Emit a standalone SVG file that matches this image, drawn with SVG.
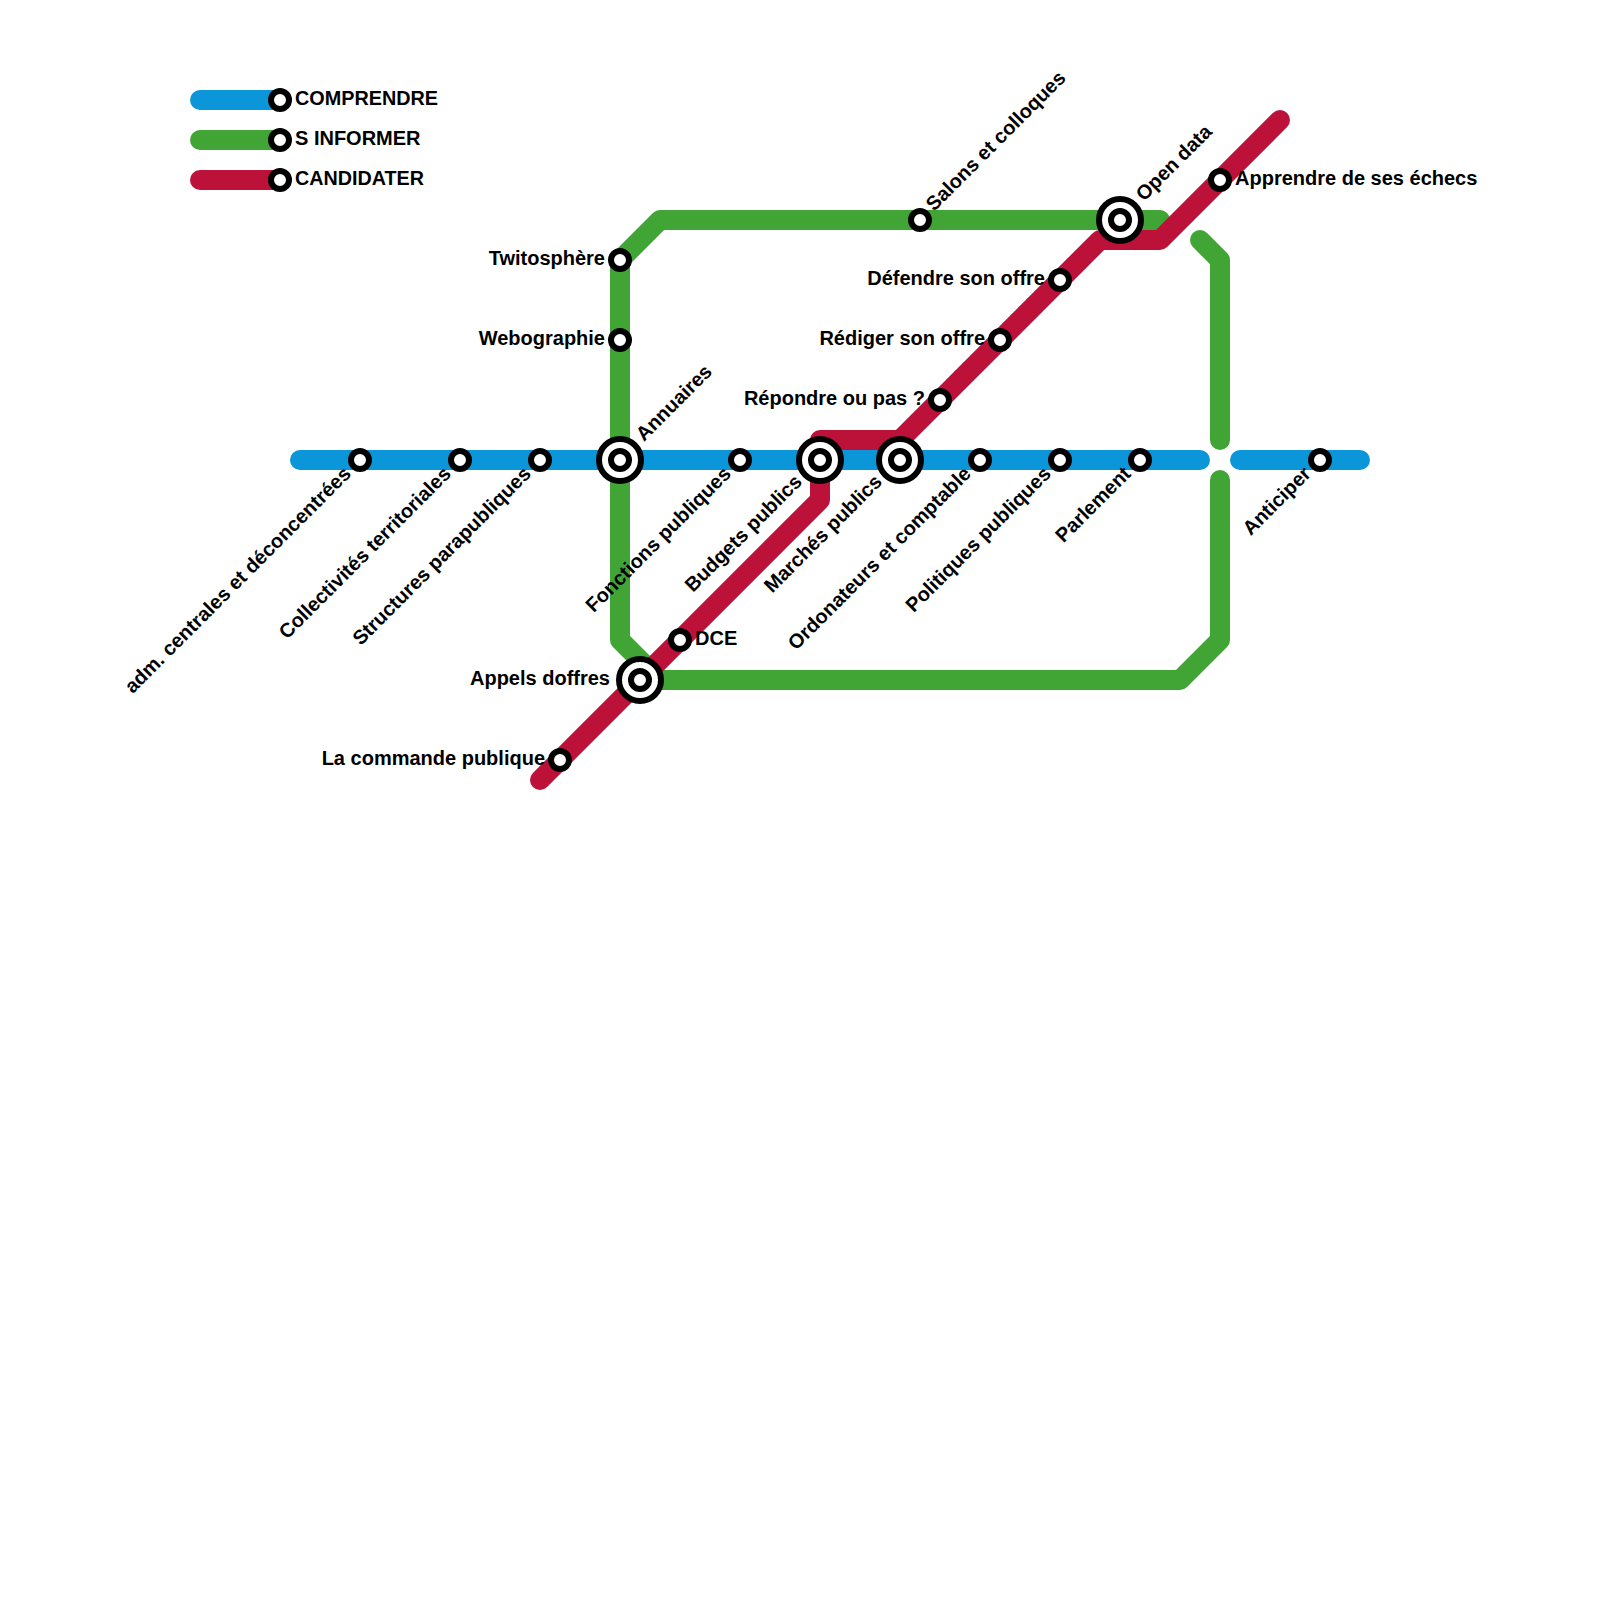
<svg xmlns="http://www.w3.org/2000/svg" width="1600" height="1600" viewBox="0 0 1600 1600">
<style>
.l{fill:none;stroke-width:20;stroke-linecap:round;stroke-linejoin:round}
.b{stroke:#0a96d8}.g{stroke:#41a535}.r{stroke:#bc1139}
.s{fill:#fff;stroke:#000;stroke-width:6}
text{font-family:"Liberation Sans",Arial,sans-serif;font-weight:700;font-size:20px;fill:#000}
.e{text-anchor:end}
</style>
<defs>
<g id="st"><circle class="s" r="9"/></g>
<g id="bg"><circle class="s" r="21"/><circle class="s" r="9"/></g>
</defs>
<g id="connectors">
<path class="l b" d="M200 100H280"/>
<path class="l g" d="M200 140H280"/>
<path class="l r" d="M200 180H280"/>
<path class="l b" d="M300 460H1200"/>
<path class="l b" d="M1240 460H1360"/>
<path class="l g" d="M1160 220H660L620 260V640L660 680H1180L1220 640V480"/>
<path class="l g" d="M1200 240L1220 260V440"/>
<path class="l r" d="M540 780L820 500V440H900L1100 240H1160L1280 120"/>
</g>
<g id="n-comprendre"><use href="#st" x="280" y="100"/><text x="295" y="105" textLength="143" lengthAdjust="spacingAndGlyphs">COMPRENDRE</text></g>
<g id="n-sinformer"><use href="#st" x="280" y="140"/><text x="295" y="145">S INFORMER</text></g>
<g id="n-candidater"><use href="#st" x="280" y="180"/><text x="295" y="185" textLength="129" lengthAdjust="spacingAndGlyphs">CANDIDATER</text></g>
<g id="n-adm"><use href="#st" x="360" y="460"/><text class="e" transform="translate(352 475) rotate(-45)">adm. centrales et déconcentrées</text></g>
<g id="n-coll"><use href="#st" x="460" y="460"/><text class="e" transform="translate(452 475) rotate(-45)">Collectivités territoriales</text></g>
<g id="n-struct"><use href="#st" x="540" y="460"/><text class="e" transform="translate(532 475) rotate(-45)">Structures parapubliques</text></g>
<g id="n-annuaires"><use href="#bg" x="620" y="460"/><text transform="translate(644 442) rotate(-45)">Annuaires</text></g>
<g id="n-fonctions"><use href="#st" x="740" y="460"/><text class="e" transform="translate(732 475) rotate(-45)">Fonctions publiques</text></g>
<g id="n-budgets"><use href="#bg" x="820" y="460"/><text class="e" transform="translate(803 483) rotate(-45)">Budgets publics</text></g>
<g id="n-marches"><use href="#bg" x="900" y="460"/><text class="e" transform="translate(883 483) rotate(-45)">Marchés publics</text></g>
<g id="n-ordo"><use href="#st" x="980" y="460"/><text class="e" transform="translate(972 475) rotate(-45)">Ordonateurs et comptable</text></g>
<g id="n-polit"><use href="#st" x="1060" y="460"/><text class="e" transform="translate(1052 475) rotate(-45)">Politiques publiques</text></g>
<g id="n-parl"><use href="#st" x="1140" y="460"/><text class="e" transform="translate(1132 475) rotate(-45)">Parlement</text></g>
<g id="n-antic"><use href="#st" x="1320" y="460"/><text class="e" transform="translate(1312 475) rotate(-45)">Anticiper</text></g>
<g id="n-twito"><use href="#st" x="620" y="260"/><text class="e" x="605" y="265">Twitosphère</text></g>
<g id="n-webo"><use href="#st" x="620" y="340"/><text class="e" x="605" y="345">Webographie</text></g>
<g id="n-salons"><use href="#st" x="920" y="220"/><text transform="translate(934 212) rotate(-45)">Salons et colloques</text></g>
<g id="n-open"><use href="#bg" x="1120" y="220"/><text transform="translate(1144 202) rotate(-45)">Open data</text></g>
<g id="n-appr"><use href="#st" x="1220" y="180"/><text x="1235" y="185">Apprendre de ses échecs</text></g>
<g id="n-def"><use href="#st" x="1060" y="280"/><text class="e" x="1045" y="285">Défendre son offre</text></g>
<g id="n-red"><use href="#st" x="1000" y="340"/><text class="e" x="985" y="345">Rédiger son offre</text></g>
<g id="n-rep"><use href="#st" x="940" y="400"/><text class="e" x="925" y="405">Répondre ou pas ?</text></g>
<g id="n-dce"><use href="#st" x="680" y="640"/><text x="695" y="645">DCE</text></g>
<g id="n-appels"><use href="#bg" x="640" y="680"/><text class="e" x="610" y="685">Appels doffres</text></g>
<g id="n-cmd"><use href="#st" x="560" y="760"/><text class="e" x="545" y="765">La commande publique</text></g>
</svg>
